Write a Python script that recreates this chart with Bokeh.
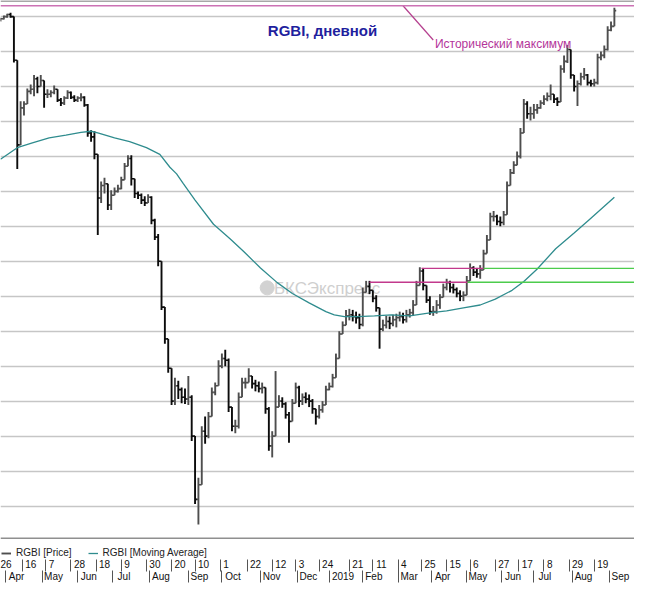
from bokeh.plotting import figure
from bokeh.models import (Range1d, ColumnDataSource, FixedTicker, LinearAxis, Grid,
                          Span, Label, Legend, LegendItem)
from bokeh.embed import file_html
from bokeh.resources import INLINE

# ---------------- data (x = trading-day index, y = RGBI level) ----------------
first_open = 144.90
bar_high = [
    144.97, 145.03, 145.08, 145.11, 145.00, 143.75, 142.58, 142.58, 142.94, 143.06,
    143.33, 143.28, 143.33, 143.11, 142.92, 142.89, 143.03, 142.83, 142.67, 142.72,
    142.89, 142.86, 142.75, 142.72, 142.81, 142.72, 142.50, 141.75, 141.72, 140.92,
    140.28, 140.39, 140.08, 140.03, 140.11, 140.19, 140.42, 140.81, 141.03, 141.03,
    140.22, 140.00, 139.94, 139.86, 139.92, 139.86, 139.22, 138.78, 138.00, 136.69,
    135.78, 134.94, 134.67, 134.58, 134.39, 134.36, 134.72, 134.17, 133.00, 131.81,
    133.28, 133.56, 133.69, 134.39, 134.53, 135.17, 135.36, 135.47, 135.22, 133.83,
    133.47, 134.25, 134.67, 134.67, 134.94, 134.72, 134.61, 134.56, 134.53, 134.39,
    133.83, 133.14, 134.86, 134.17, 134.11, 133.97, 133.69, 134.06, 134.53, 134.44,
    134.22, 134.25, 134.19, 134.06, 133.78, 133.89, 134.00, 134.44, 134.53, 134.78,
    135.36, 136.00, 136.28, 136.61, 136.64, 136.61, 136.56, 136.50, 137.25, 137.44,
    137.44, 137.17, 137.03, 136.67, 136.33, 136.44, 136.42, 136.47, 136.50, 136.56,
    136.53, 136.61, 136.64, 136.89, 137.44, 137.83, 137.81, 137.31, 137.00, 136.72,
    136.89, 137.06, 137.36, 137.50, 137.44, 137.36, 137.25, 137.17, 137.14, 137.58,
    137.94, 137.86, 137.81, 137.89, 138.33, 138.75, 139.39, 139.44, 139.33, 139.28,
    139.44, 140.28, 140.64, 140.86, 141.14, 141.81, 142.64, 142.58, 142.42, 142.50,
    142.50, 142.61, 142.75, 142.83, 143.06, 142.78, 142.69, 143.61, 143.89, 144.19,
    143.97, 143.33, 143.17, 143.39, 143.53, 143.36, 143.19, 143.22, 143.94, 144.00,
    144.17, 144.72, 144.86, 145.25,
]
bar_low = [
    144.86, 144.92, 144.97, 144.97, 143.69, 140.64, 141.33, 142.17, 142.50, 142.78,
    142.72, 142.81, 143.00, 142.39, 142.67, 142.69, 142.78, 142.56, 142.44, 142.47,
    142.64, 142.64, 142.56, 142.56, 142.58, 142.42, 141.56, 141.42, 140.92, 138.75,
    139.67, 139.94, 139.47, 139.47, 139.89, 139.97, 140.06, 140.44, 140.78, 140.17,
    139.81, 139.78, 139.64, 139.58, 139.67, 139.06, 138.61, 137.86, 136.61, 135.64,
    134.81, 133.89, 133.89, 134.06, 133.94, 133.92, 133.89, 132.86, 131.06, 130.47,
    131.81, 132.78, 132.94, 133.61, 134.17, 134.44, 134.94, 135.00, 133.69, 133.14,
    133.08, 133.22, 134.25, 134.36, 134.53, 134.36, 134.28, 134.25, 134.22, 133.64,
    132.58, 132.39, 133.06, 133.83, 133.81, 133.50, 132.81, 133.61, 134.06, 133.83,
    133.89, 133.94, 133.83, 133.64, 133.33, 133.50, 133.67, 133.97, 134.31, 134.39,
    134.67, 135.36, 135.92, 136.19, 136.31, 136.28, 136.22, 136.06, 136.14, 137.11,
    137.06, 136.83, 136.56, 135.50, 136.00, 136.08, 136.06, 136.14, 136.11, 136.28,
    136.22, 136.25, 136.39, 136.44, 136.83, 137.39, 137.17, 136.81, 136.47, 136.44,
    136.50, 136.64, 136.97, 137.17, 137.11, 137.08, 136.97, 136.86, 136.86, 137.03,
    137.58, 137.58, 137.53, 137.50, 137.78, 138.22, 138.61, 139.14, 139.03, 139.00,
    139.03, 139.50, 140.22, 140.50, 140.78, 140.94, 141.67, 142.08, 142.03, 142.08,
    142.22, 142.36, 142.47, 142.58, 142.61, 142.53, 142.44, 142.56, 143.39, 143.67,
    143.22, 142.86, 142.44, 143.03, 143.19, 143.03, 143.00, 143.00, 143.06, 143.75,
    143.81, 144.03, 144.58, 144.72,
]
bar_close = [
    144.94, 145.00, 145.06, 145.00, 143.75, 141.33, 142.39, 142.50, 142.86, 142.92,
    143.22, 143.00, 143.17, 142.78, 142.78, 142.83, 142.92, 142.61, 142.53, 142.67,
    142.83, 142.69, 142.61, 142.67, 142.69, 142.47, 141.67, 141.56, 141.06, 139.81,
    140.17, 140.22, 139.61, 139.89, 140.00, 140.08, 140.33, 140.72, 140.94, 140.36,
    139.94, 139.89, 139.75, 139.67, 139.83, 139.17, 138.69, 138.00, 136.69, 135.78,
    134.94, 134.00, 134.44, 134.33, 134.11, 134.06, 134.11, 133.00, 131.19, 131.61,
    133.14, 133.00, 133.56, 134.25, 134.44, 135.00, 135.22, 135.17, 133.83, 133.28,
    133.28, 134.11, 134.53, 134.53, 134.72, 134.50, 134.44, 134.36, 134.39, 133.78,
    132.72, 133.00, 133.83, 134.00, 133.92, 133.61, 133.42, 133.94, 134.39, 134.00,
    134.11, 134.06, 134.00, 133.78, 133.56, 133.75, 133.89, 134.33, 134.42, 134.67,
    135.22, 135.92, 136.17, 136.44, 136.47, 136.42, 136.39, 136.19, 137.11, 137.28,
    137.17, 136.94, 136.67, 136.06, 136.17, 136.28, 136.22, 136.33, 136.39, 136.42,
    136.33, 136.47, 136.53, 136.75, 137.31, 137.72, 137.31, 136.89, 136.56, 136.56,
    136.75, 136.97, 137.25, 137.39, 137.25, 137.19, 137.08, 137.00, 137.03, 137.44,
    137.81, 137.69, 137.64, 137.75, 138.22, 138.61, 139.28, 139.28, 139.14, 139.11,
    139.33, 140.17, 140.53, 140.75, 141.00, 141.67, 142.50, 142.22, 142.22, 142.33,
    142.39, 142.53, 142.64, 142.72, 142.78, 142.64, 142.56, 143.50, 143.72, 144.06,
    143.33, 143.00, 143.08, 143.28, 143.33, 143.11, 143.08, 143.11, 143.83, 143.89,
    144.06, 144.61, 144.72, 145.17,
]
bar_day = list(range(0, 2 * len(bar_close), 2))  # one bar per two trading days

ma_day = [0, 10, 19, 29, 39, 48, 54, 58, 68, 77, 87, 95, 101, 105, 109, 116, 127, 137,
          145, 155, 165, 174, 184, 194, 199, 205, 213, 223, 233, 244, 257, 266, 276,
          286, 295, 305, 312, 320, 331, 342, 351, 366]
ma_value = [140.92, 141.25, 141.39, 141.53, 141.61, 141.69, 141.72, 141.67, 141.53,
            141.42, 141.25, 141.06, 140.69, 140.50, 140.22, 139.75, 139.06, 138.64,
            138.28, 137.81, 137.39, 137.08, 136.81, 136.56, 136.47, 136.42, 136.42,
            136.44, 136.47, 136.44, 136.53, 136.58, 136.67, 136.75, 136.92, 137.17,
            137.42, 137.78, 138.36, 138.81, 139.19, 139.83]

hist_max = 145.31
level_price = [137.80, 137.40]
level_pink_start = [251, 220]
level_pink_end = [288, 278.5]
grid_levels = [131, 132, 133, 134, 135, 136, 137, 138, 139, 140, 141, 142, 143, 144, 145]

date_sep = [-2, 13, 27, 42, 57, 72, 87, 102, 116, 131, 147, 162, 176, 190, 208, 222,
            237, 251, 266, 280, 295, 309, 324, 339, 354]
date_labels = ["26", "16", "7", "28", "18", "9", "30", "20", "10", "1", "22", "12", "3",
               "24", "21", "11", "4", "25", "15", "6", "27", "17", "8", "29", "19"]
month_sep = [3, 25, 46, 67, 89, 112, 132, 155, 177, 196, 216, 237, 257, 278, 299, 318,
             341, 363]
month_labels = ["Apr", "May", "Jun", "Jul", "Aug", "Sep", "Oct", "Nov", "Dec", "2019",
                "Feb", "Mar", "Apr", "May", "Jun", "Jul", "Aug", "Sep"]

# ---------------- figure ----------------
W, H = 634, 584
X0, X1 = 0, 378
Y0, Y1 = 129.47, 145.46
PLOT_BOTTOM = 130.08
FONT = "Liberation Sans"

p = figure(width=W, height=H, x_range=Range1d(X0, X1), y_range=Range1d(Y0, Y1),
           x_axis_type=None, y_axis_type=None, output_backend="svg",
           toolbar_location=None, min_border=0)
p.outline_line_color = None
p.background_fill_color = "white"
p.border_fill_color = "white"

p.add_layout(Grid(dimension=1, ticker=FixedTicker(ticks=grid_levels),
                  grid_line_color="#c6c6c6", grid_line_width=1.4))

# watermark
p.scatter([159], [137.24], size=14, marker="circle", color="#d2d2d2", level="underlay")
p.add_layout(Label(x=163, y=137.22, text="БКСЭкспресс", text_align="left",
                   text_baseline="middle", text_font_size="17px", text_font=FONT,
                   text_color="#cfcfcf", level="underlay"))

# OHLC bars (open = previous close)
opens = [first_open] + bar_close[:-1]
colors = ["#4e4e4e" if c >= o else "#0c0c0c" for o, c in zip(opens, bar_close)]
src = ColumnDataSource(dict(
    x=bar_day,
    xl=[d - 1.1 for d in bar_day],
    xr=[d + 1.1 for d in bar_day],
    lo=[min(l, o, c) for l, o, c in zip(bar_low, opens, bar_close)],
    hi=[max(h, o, c) for h, o, c in zip(bar_high, opens, bar_close)],
    o=opens, c=bar_close, color=colors))
r_price = p.segment(x0="x", y0="lo", x1="x", y1="hi", line_color="color",
                    line_width=1.9, source=src)
p.segment(x0="xl", y0="o", x1="x", y1="o", line_color="color", line_width=1.6, source=src)
p.segment(x0="x", y0="c", x1="xr", y1="c", line_color="color", line_width=1.6, source=src)

# moving average
r_ma = p.line(ma_day, ma_value, line_color="#2f8c8e", line_width=1.3)

# resistance levels
p.segment(x0=level_pink_start, y0=level_price, x1=level_pink_end, y1=level_price,
          line_color="#c2398c", line_width=1.3)
p.segment(x0=level_pink_end, y0=level_price, x1=[X1] * len(level_price), y1=level_price,
          line_color="#4ccc4c", line_width=1.3)

# frame lines and historical maximum
p.add_layout(Span(location=145.445, dimension="width", line_color="#8a8a8a", line_width=1.5))
p.add_layout(Span(location=hist_max, dimension="width", line_color="#cc72b4", line_width=1.6))
p.add_layout(Span(location=PLOT_BOTTOM, dimension="width", line_color="#8f8f8f", line_width=1.5))

p.segment(x0=[240], y0=[hist_max], x1=[258], y1=[144.33], line_color="#b5408f", line_width=1.2)
p.add_layout(Label(x=259, y=144.22, text="Исторический максимум", text_align="left",
                   text_baseline="middle", text_font_size="12px", text_font=FONT,
                   text_color="#b4359a"))
p.add_layout(Label(x=192, y=144.61, text="RGBI, дневной", text_align="center",
                   text_baseline="middle", text_font_size="15px", text_font=FONT,
                   text_font_style="bold", text_color="#1f1f9e"))

# legend row (inside the strip under the plot border)
legend = Legend(items=[LegendItem(label="RGBI [Price]", renderers=[r_price], index=1),
                       LegendItem(label="RGBI [Moving Average]", renderers=[r_ma])],
                orientation="horizontal", location="bottom_left", border_line_color=None,
                background_fill_alpha=0, label_text_font_size="10px", label_text_font=FONT,
                label_text_color="#222222", glyph_width=10, glyph_height=8, padding=2,
                margin=1, spacing=16, label_standoff=5, label_height=10)
p.add_layout(legend)

# two-row date axis
ppd = W / (X1 - X0)


def centers(seps, labels, char_w):
    return [round(s + (3 + char_w * len(t) / 2) / ppd, 2) for s, t in zip(seps, labels)]


def row_axis(seps, labels, char_w):
    cs = centers(seps, labels, char_w)
    ax = LinearAxis(ticker=FixedTicker(ticks=cs, minor_ticks=seps),
                    major_label_overrides={c: t for c, t in zip(cs, labels)})
    ax.axis_line_color = None
    ax.major_tick_line_color = None
    ax.major_tick_out = 0
    ax.major_tick_in = 0
    ax.minor_tick_out = 12
    ax.minor_tick_in = 0
    ax.minor_tick_line_color = "#555555"
    ax.minor_tick_line_width = 1
    ax.major_label_standoff = -12
    ax.major_label_text_font_size = "10px"
    ax.major_label_text_font = FONT
    ax.major_label_text_color = "#111111"
    return ax


p.add_layout(row_axis(date_sep, date_labels, 5.5), "below")
p.add_layout(row_axis(month_sep, month_labels, 5.4), "below")

open("out.html", "w").write(file_html(p, INLINE))
